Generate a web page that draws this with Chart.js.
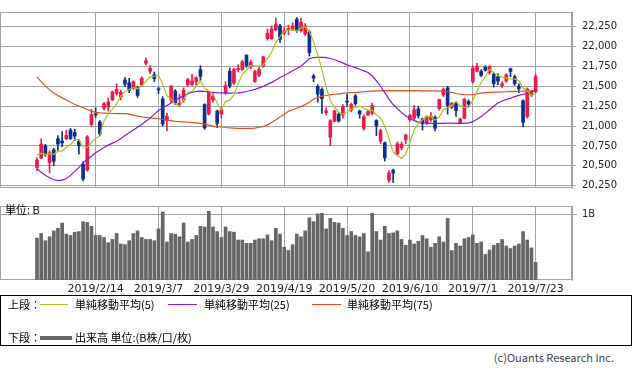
<!DOCTYPE html>
<html>
<head>
<meta charset="utf-8">
<script src="https://cdn.jsdelivr.net/npm/chart.js@4/dist/chart.umd.min.js"></script>
<style>
body{margin:0;background:#fff;width:633px;height:370px;position:relative;overflow:hidden;font-family:"Noto Sans CJK JP",sans-serif;color:#000;}
canvas{position:absolute;left:0;}
#price{top:0;}
#vol{top:195px;}
.t{position:absolute;font-size:11px;line-height:14px;white-space:nowrap;}
.ln{position:absolute;height:1px;}
#legend{position:absolute;left:0;top:295px;width:630px;height:49px;border:1px solid #000;}
</style>
</head>
<body>
<canvas id="price" width="633" height="200" style="width:633px;height:200px"></canvas>
<canvas id="vol" width="633" height="105" style="width:633px;height:105px"></canvas>
<div class="t" style="left:5px;top:202px;">単位: B</div>
<div id="legend">
  <div class="t" style="left:7px;top:1px;">上段：</div>
  <div class="ln" style="left:39px;top:8px;width:28px;background:#a8c41c"></div>
  <div class="t" style="left:74px;top:1px;">単純移動平均(5)</div>
  <div class="ln" style="left:167px;top:8px;width:29px;background:#8f14d8"></div>
  <div class="t" style="left:203px;top:1px;">単純移動平均(25)</div>
  <div class="ln" style="left:311px;top:8px;width:29px;background:#e0501a"></div>
  <div class="t" style="left:346px;top:1px;">単純移動平均(75)</div>
  <div class="t" style="left:7px;top:34px;">下段：</div>
  <div class="ln" style="left:39px;top:40px;width:32px;height:4px;background:#666"></div>
  <div class="t" style="left:74px;top:34px;">出来高 単位:(B株/口/枚)</div>
</div>
<div class="t" style="right:19px;top:350px;color:#444;">(c)Ouants Research Inc.</div>
<script>
const dates = [
"2019/1/24","2019/1/25","2019/1/28","2019/1/29","2019/1/30","2019/1/31","2019/2/1","2019/2/4","2019/2/5","2019/2/6",
"2019/2/7","2019/2/8","2019/2/12","2019/2/13","2019/2/14","2019/2/15","2019/2/18","2019/2/19","2019/2/20","2019/2/21",
"2019/2/22","2019/2/25","2019/2/26","2019/2/27","2019/2/28","2019/3/1","2019/3/4","2019/3/5","2019/3/6","2019/3/7",
"2019/3/8","2019/3/11","2019/3/12","2019/3/13","2019/3/14","2019/3/15","2019/3/18","2019/3/19","2019/3/20","2019/3/22",
"2019/3/25","2019/3/26","2019/3/27","2019/3/28","2019/3/29","2019/4/1","2019/4/2","2019/4/3","2019/4/4","2019/4/5",
"2019/4/8","2019/4/9","2019/4/10","2019/4/11","2019/4/12","2019/4/15","2019/4/16","2019/4/17","2019/4/18","2019/4/19",
"2019/4/22","2019/4/23","2019/4/24","2019/4/25","2019/4/26","2019/5/7","2019/5/8","2019/5/9","2019/5/10","2019/5/13",
"2019/5/14","2019/5/15","2019/5/16","2019/5/17","2019/5/20","2019/5/21","2019/5/22","2019/5/23","2019/5/24","2019/5/27",
"2019/5/28","2019/5/29","2019/5/30","2019/5/31","2019/6/3","2019/6/4","2019/6/5","2019/6/6","2019/6/7","2019/6/10",
"2019/6/11","2019/6/12","2019/6/13","2019/6/14","2019/6/17","2019/6/18","2019/6/19","2019/6/20","2019/6/21","2019/6/24",
"2019/6/25","2019/6/26","2019/6/27","2019/6/28","2019/7/1","2019/7/2","2019/7/3","2019/7/4","2019/7/5","2019/7/8",
"2019/7/9","2019/7/10","2019/7/11","2019/7/12","2019/7/16","2019/7/17","2019/7/18","2019/7/19","2019/7/22","2019/7/23"
];

const opens = [
20480,20600,20750,20540,20700,20840,20810,20840,20950,20920,
20810,20520,20450,21020,21155,21050,21225,21240,21330,21410,
21370,21580,21545,21480,21480,21520,21790,21690,21645,21470,
21340,21070,21330,21440,21270,21330,21520,21520,21560,21710,
21270,21150,21330,21190,21150,21420,21690,21540,21710,21710,
21890,21745,21560,21640,21755,22100,22100,22210,22260,22170,
22215,22220,22345,22200,22160,22185,21630,21500,21460,21170,
20860,21060,21150,21140,21310,21200,21380,21190,20970,21140,
21160,21070,20810,20790,20320,20445,20650,20730,20830,21080,
21100,21215,21090,21040,21080,21110,21220,21390,21480,21235,
21290,21040,21100,21310,21560,21690,21690,21740,21670,21650,
21620,21510,21570,21720,21620,21500,21320,21120,21390,21430
];
const highs = [
20600,20840,20770,20690,20720,20880,20930,20950,20970,20960,
20830,20550,20880,21210,21230,21070,21300,21350,21440,21530,
21450,21610,21600,21570,21500,21620,21860,21760,21680,21490,
21370,21160,21510,21460,21400,21480,21600,21650,21620,21760,
21280,21430,21420,21200,21230,21560,21730,21730,21770,21830,
21900,21830,21700,21740,21880,22220,22260,22360,22280,22240,
22270,22300,22365,22360,22290,22200,21650,21520,21480,21230,
21080,21200,21170,21270,21400,21290,21400,21200,21140,21200,
21290,21080,20960,20800,20440,20460,20800,20800,20900,21150,
21260,21250,21100,21130,21170,21130,21340,21480,21500,21300,
21310,21100,21350,21330,21760,21790,21710,21760,21760,21670,
21660,21560,21660,21730,21640,21530,21330,21480,21450,21650
];
const lows = [
20440,20590,20620,20410,20500,20690,20740,20830,20830,20820,
20650,20310,20430,21000,21110,20880,21200,21190,21320,21390,
21330,21500,21420,21460,21360,21500,21770,21660,21560,21410,
21000,20940,21300,21270,21240,21300,21500,21510,21510,21560,
20960,21140,21300,20980,21100,21400,21480,21520,21680,21700,
21740,21720,21550,21620,21740,22080,22090,22200,22050,22150,
22150,22200,22180,22180,22140,21880,21560,21300,21160,21140,
20750,21050,21050,21100,21250,21180,21260,21100,20950,21130,
21140,20880,20780,20560,20290,20290,20640,20700,20780,21060,
21080,21100,20950,21020,21060,20940,21200,21370,21150,21220,
21120,21030,21090,21250,21540,21680,21620,21690,21650,21490,
21520,21480,21550,21620,21510,21420,20990,21100,21370,21420
];
const closes = [
20575,20774,20649,20665,20557,20773,20788,20884,20844,20874,
20751,20333,20864,21144,21140,20901,21282,21303,21431,21464,
21426,21528,21449,21557,21385,21603,21822,21726,21597,21456,
21026,21125,21504,21290,21287,21451,21585,21567,21609,21627,
20977,21428,21378,21034,21206,21509,21505,21713,21725,21808,
21762,21803,21688,21711,21871,22169,22222,22278,22090,22200,
22218,22260,22201,22308,22259,21924,21603,21402,21345,21191,
21067,21189,21063,21250,21302,21272,21283,21151,21117,21183,
21260,21003,20942,20601,20411,20409,20776,20774,20885,21134,
21204,21130,21032,21117,21124,20973,21334,21463,21259,21286,
21194,21087,21338,21276,21730,21754,21638,21702,21746,21534,
21565,21533,21644,21686,21535,21469,21046,21467,21417,21621
];
const volumes = [
0.64,0.71,0.60,0.66,0.75,0.79,0.87,0.70,0.68,0.73,
0.74,0.89,0.88,0.82,0.68,0.68,0.65,0.57,0.62,0.71,
0.55,0.54,0.60,0.71,0.75,0.65,0.62,0.62,0.60,0.78,
1.04,0.58,0.71,0.70,0.66,0.87,0.58,0.62,0.68,0.82,
0.81,1.05,0.81,0.74,0.65,0.81,0.74,0.73,0.61,0.61,
0.56,0.56,0.61,0.63,0.63,0.69,0.60,0.79,0.70,0.50,
0.45,0.54,0.70,0.66,0.75,0.95,0.89,1.01,1.02,0.78,
0.94,0.88,0.87,0.79,0.68,0.74,0.68,0.66,0.71,0.43,
1.02,0.74,0.61,0.82,0.71,0.72,0.75,0.62,0.53,0.61,
0.55,0.59,0.68,0.63,0.50,0.56,0.66,0.58,0.94,0.45,
0.56,0.52,0.63,0.65,0.69,0.56,0.58,0.39,0.46,0.53,
0.56,0.62,0.52,0.48,0.52,0.55,0.74,0.61,0.49,0.27
];
const ma5 = [
20635,20657,20643,20651,20644,20684,20686,20733,20769,20833,
20828,20737,20733,20793,20846,20876,21066,21154,21211,21276,
21381,21430,21460,21485,21469,21504,21563,21619,21627,21641,
21525,21386,21342,21280,21246,21331,21423,21436,21500,21568,
21473,21442,21404,21289,21205,21311,21326,21393,21532,21652,
21703,21762,21757,21754,21767,21848,21932,22050,22126,22192,
22202,22209,22194,22237,22249,22190,22059,21899,21707,21493,
21322,21239,21171,21152,21174,21215,21234,21252,21225,21201,
21199,21143,21101,20998,20843,20673,20628,20594,20651,20796,
20955,21025,21077,21123,21121,21075,21116,21202,21231,21263,
21307,21258,21233,21236,21325,21437,21547,21620,21714,21675,
21637,21616,21604,21592,21593,21573,21476,21441,21387,21404
];
const ma25 = [
20464,20420,20380,20350,20325,20315,20320,20340,20380,20430,
20480,20540,20580,20620,20665,20700,20730,20760,20785,20810,
20845,20880,20915,20950,20985,21020,21060,21100,21150,21195,
21230,21260,21290,21325,21355,21380,21405,21425,21437,21440,
21437,21430,21425,21420,21417,21415,21415,21416,21418,21425,
21435,21448,21462,21480,21500,21525,21550,21580,21610,21636,
21665,21695,21725,21752,21800,21847,21860,21865,21866,21860,
21850,21835,21815,21795,21770,21752,21735,21715,21695,21674,
21630,21570,21501,21420,21340,21271,21220,21170,21130,21095,
21068,21050,21042,21038,21035,21034,21034,21035,21036,21036,
21035,21034,21035,21040,21055,21085,21121,21160,21205,21250,
21290,21315,21335,21350,21370,21386,21400,21412,21430,21444
];
const ma75 = [
21616,21560,21505,21455,21415,21385,21355,21328,21300,21275,
21252,21230,21208,21188,21172,21165,21162,21160,21158,21157,
21156,21156,21150,21138,21126,21117,21110,21104,21098,21092,
21085,21076,21068,21060,21056,21052,21048,21044,21040,21035,
21025,21012,21000,20994,20988,20982,20978,20975,20972,20971,
20971,20972,20975,20985,20994,21015,21045,21079,21115,21150,
21185,21205,21225,21245,21270,21300,21340,21360,21375,21385,
21393,21400,21406,21412,21418,21422,21425,21428,21432,21436,
21440,21443,21444,21445,21446,21446,21446,21446,21445,21445,
21445,21445,21444,21444,21443,21442,21440,21438,21432,21425,
21410,21402,21396,21394,21396,21405,21415,21420,21423,21426,
21428,21430,21432,21434,21436,21438,21440,21442,21443,21444
];
const priceTicks = [20250,20500,20750,21000,21250,21500,21750,22000,22250];
const volumeTicks = [1];
const labelDays = ["2019/2/14","2019/3/7","2019/3/29","2019/4/19","2019/5/20","2019/6/10","2019/7/1","2019/7/23"];

const UP = "#ec1a48";
const DOWN = "#0b2f8f";
const GRID = "#a3a3a3";
const labelIdx = labelDays.map(d => dates.indexOf(d));

// x range so that candle i sits at 37 + 4.19*i px
const X_MIN = -8.83, X_MAX = 127.68;

const frame = {
  id: "frame",
  beforeDatasetsDraw(chart){
    const a = chart.chartArea, c = chart.ctx;
    c.save();
    c.strokeStyle = GRID;
    c.lineWidth = 1;
    c.strokeRect(Math.round(a.left) + 0.5, Math.round(a.top) + 0.5,
      Math.round(a.right - a.left) - 1, Math.round(a.bottom - a.top) - 1);
    c.restore();
  }
};

function pts(arr){
  return arr.map((v, i) => ({x: i, y: v}));
}

function candleColor(ctx){
  const i = ctx.dataIndex;
  return closes[i] >= opens[i] ? UP : DOWN;
}

function xScale(showLabels){
  return {
    type: "linear",
    min: X_MIN,
    max: X_MAX,
    offset: false,
    afterBuildTicks: s => { s.ticks = labelIdx.map(v => ({value: v})); },
    afterFit: s => { s.height = showLabels ? 20 : 0; },
    grid: {color: GRID, drawTicks: false, offset: false},
    border: {display: false},
    ticks: {
      display: showLabels,
      autoSkip: false,
      maxRotation: 0,
      padding: 3,
      color: "#222",
      font: {family: "DejaVu Sans", size: 11},
      callback: v => dates[v]
    }
  };
}

new Chart(document.getElementById("price"), {
  type: "bar",
  data: {
    datasets: [
      {type: "line", data: pts(ma5), borderColor: "#a8c41c", borderWidth: 1.2, pointRadius: 0, order: 0},
      {type: "line", data: pts(ma25), borderColor: "#8f14d8", borderWidth: 1.2, pointRadius: 0, order: 0},
      {type: "line", data: pts(ma75), borderColor: "#e0501a", borderWidth: 1.2, pointRadius: 0, order: 0},
      {
        type: "bar",
        data: lows.map((l, i) => ({x: i, y: [l, highs[i]]})),
        backgroundColor: candleColor,
        barThickness: 1,
        grouped: false,
        order: 2
      },
      {
        type: "bar",
        data: opens.map((o, i) => ({x: i, y: [o, closes[i]]})),
        backgroundColor: candleColor,
        barThickness: 3,
        minBarLength: 1,
        grouped: false,
        order: 1
      }
    ]
  },
  options: {
    responsive: false,
    animation: false,
    layout: {padding: {top: 0, bottom: 9, left: 0, right: 0}},
    plugins: {legend: {display: false}, tooltip: {enabled: false}},
    scales: {
      x: xScale(false),
      y: {
        position: "right",
        min: 20221,
        max: 22435,
        afterBuildTicks: s => { s.ticks = priceTicks.map(v => ({value: v})); },
        afterFit: s => { s.width = 61; },
        grid: {color: GRID, tickLength: 4},
        border: {color: GRID},
        ticks: {
          padding: 6,
          color: "#222",
          font: {family: "DejaVu Sans", size: 10},
          callback: v => v.toLocaleString("en-US")
        }
      }
    }
  },
  plugins: [frame]
});

new Chart(document.getElementById("vol"), {
  type: "bar",
  data: {
    datasets: [{
      data: pts(volumes),
      backgroundColor: "#666666",
      barThickness: 3,
      grouped: false
    }]
  },
  options: {
    responsive: false,
    animation: false,
    layout: {padding: {top: 7, bottom: 0, left: 0, right: 0}},
    plugins: {legend: {display: false}, tooltip: {enabled: false}},
    scales: {
      x: xScale(true),
      y: {
        position: "right",
        min: 0,
        max: 1.13,
        afterBuildTicks: s => { s.ticks = volumeTicks.map(v => ({value: v})); },
        afterFit: s => { s.width = 61; },
        grid: {color: GRID, tickLength: 5},
        border: {color: GRID},
        ticks: {
          padding: 5,
          color: "#222",
          font: {family: "DejaVu Sans", size: 10},
          callback: v => v + "B"
        }
      }
    }
  },
  plugins: [frame]
});
</script>
</body>
</html>
